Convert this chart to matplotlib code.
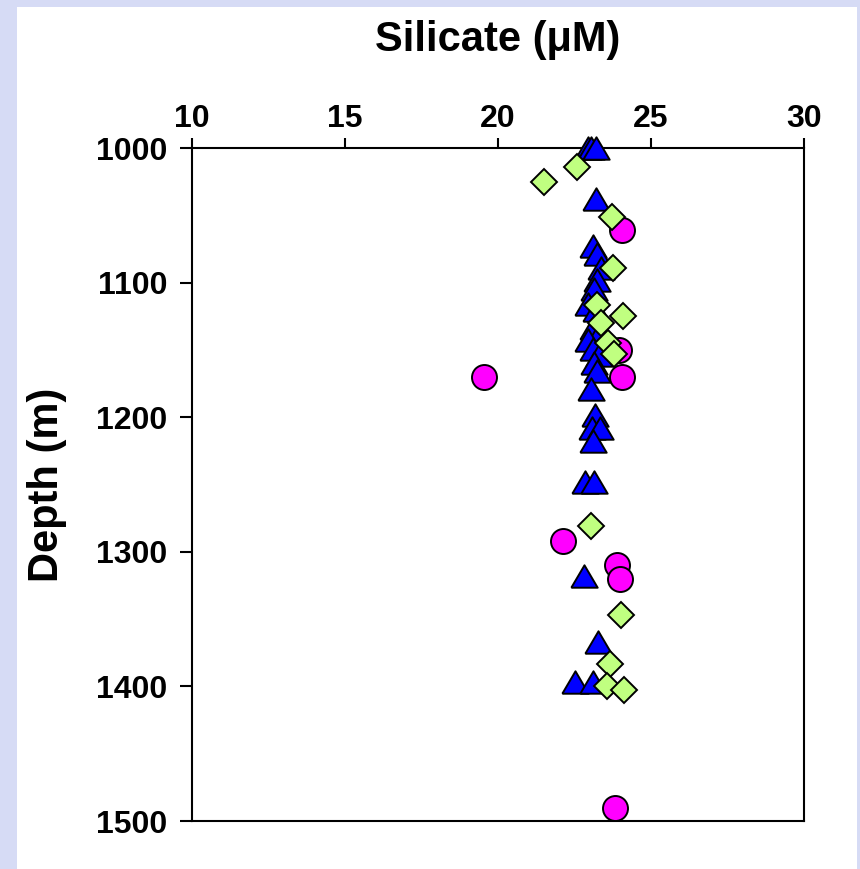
import numpy as np
import matplotlib.pyplot as plt
from matplotlib.patches import Rectangle

plt.rcParams['font.family'] = ['Liberation Sans', 'DejaVu Sans']
plt.rcParams['font.weight'] = 'bold'

# Triangles (blue)
tri_si = [22.95, 23.05, 23.2, 23.2, 23.1, 23.25, 23.35, 23.25, 23.15, 22.95, 23.2,
          23.1, 23.3, 22.95, 23.1, 23.3, 23.15, 23.25, 23.05,
          23.17, 23.06, 23.33, 23.09, 22.84, 23.15, 22.8, 23.28, 22.5, 23.09]
tri_depth = [1000, 1000, 1000, 1038, 1073, 1079, 1089, 1098, 1105, 1116, 1120,
             1134, 1138, 1143, 1149, 1154, 1160, 1166, 1179,
             1198, 1208, 1208, 1218, 1248, 1248, 1318, 1367, 1397, 1397]

# Circles (magenta)
circ_si = [24.05, 23.95, 24.05, 19.54, 22.12, 23.89, 23.99, 23.82]
circ_depth = [1061, 1150, 1170, 1170, 1292, 1310, 1320, 1490]

# Diamonds (green)
dia_si = [22.57, 21.5, 23.74, 23.77, 23.22, 24.1, 23.37, 23.6, 23.8,
          23.03, 24.02, 23.66, 23.55, 24.12]
dia_depth = [1014, 1025, 1051, 1089, 1117, 1125, 1130, 1145, 1153,
             1281, 1347, 1383, 1400, 1403]

xticks = [10, 15, 20, 25, 30]
yticks = [1000, 1100, 1200, 1300, 1400, 1500]

fig = plt.figure(figsize=(8.6, 8.69), dpi=100, facecolor='#D6DBF5')
# white panel inside the lavender frame
fig.patches.append(Rectangle((17 / 860, 0), 840 / 860, 862 / 869,
                             transform=fig.transFigure, facecolor='white',
                             edgecolor='none', zorder=-10))
ax = fig.add_axes([192 / 860, 1 - 821 / 869, 612 / 860, 673 / 869])
ax.set_facecolor('white')

tri_marker = [(-1, -0.85), (1, -0.85), (0, 0.85), (-1, -0.85)]
ax.plot(circ_si, circ_depth, linestyle='none', marker='o', markersize=18,
        markerfacecolor='#FF00FF', markeredgecolor='black', markeredgewidth=1.4,
        clip_on=False, zorder=3)
ax.plot(tri_si, tri_depth, linestyle='none', marker=tri_marker, markersize=19,
        markerfacecolor='#0000FF', markeredgecolor='black', markeredgewidth=1.4,
        clip_on=False, zorder=4)
ax.plot(dia_si, dia_depth, linestyle='none', marker='D', markersize=13.5,
        markerfacecolor='#C0FF80', markeredgecolor='black', markeredgewidth=1.4,
        clip_on=False, zorder=5)

ax.set_xlim(10, 30)
ax.set_ylim(1500, 1000)
ax.set_xticks(xticks)
ax.set_yticks(yticks)
ax.xaxis.tick_top()
ax.xaxis.set_label_position('top')
ax.tick_params(axis='x', direction='out', length=7, width=1.5, labelsize=23, pad=3)
ax.tick_params(axis='y', direction='out', length=8.5, width=1.5, labelsize=23, pad=9)
for lab in ax.get_xticklabels() + ax.get_yticklabels():
    lab.set_fontweight('bold')
for sp in ax.spines.values():
    sp.set_linewidth(1.5)

ax.set_xlabel('Silicate (\u03bcM)', fontsize=30, fontweight='bold', va='center')
ax.set_ylabel('Depth (m)', fontsize=30, fontweight='bold', va='center')
ax.xaxis.set_label_coords(0.5, (821 - 40) / 673)
ax.yaxis.set_label_coords((47 - 192) / 612, 0.5)

plt.savefig('out.png', dpi=100, facecolor=fig.get_facecolor())
plt.close()
